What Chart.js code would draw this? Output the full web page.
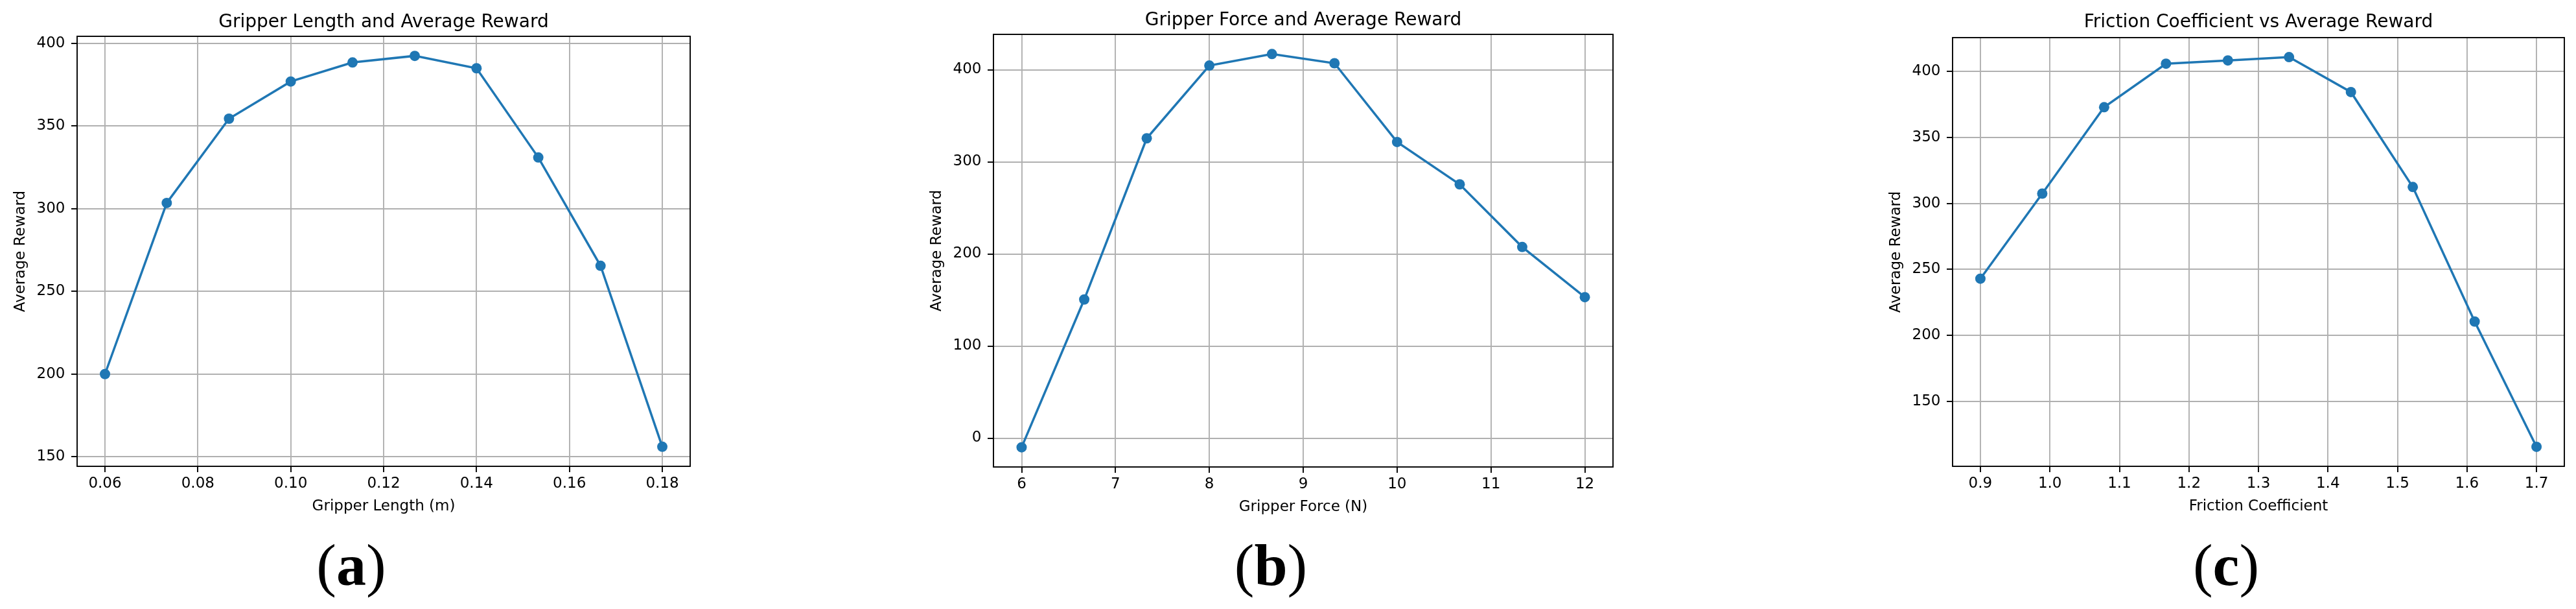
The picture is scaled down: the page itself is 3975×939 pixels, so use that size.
<!DOCTYPE html>
<html>
<head>
<meta charset="utf-8">
<title>Gripper parameters and average reward</title>
<script src="https://cdn.jsdelivr.net/npm/chart.js@4.4.1/dist/chart.umd.min.js"></script>
<style>
  html, body { margin: 0; padding: 0; background: #fff; }
  body { width: 3975px; height: 939px; position: relative; overflow: hidden; }
  .panel { position: absolute; top: 0; }
  .tag {
    position: absolute;
    top: 825px;
    transform: translateX(-50%);
    font-family: 'Liberation Serif', 'Times New Roman', serif;
    font-size: 92px;
    line-height: 92px;
    color: #000;
    white-space: nowrap;
  }
</style>
</head>
<body>
<canvas class="panel" id="chart-a" width="1100" height="800" style="left:0px"></canvas>
<canvas class="panel" id="chart-b" width="1120" height="800" style="left:1400px"></canvas>
<canvas class="panel" id="chart-c" width="1095" height="800" style="left:2880px"></canvas>
<div class="tag" style="left:542px">(<b>a</b>)</div>
<div class="tag" style="left:1961px">(<b>b</b>)</div>
<div class="tag" style="left:3435px">(<b>c</b>)</div>

<script>
// (a) gripper length sweep
const gripperLength = [0.06, 0.0733, 0.0867, 0.10, 0.1133, 0.1267, 0.14, 0.1533, 0.1667, 0.18];
const lengthReward = [200, 303.5, 354.5, 377, 388.5, 392.5, 385, 331, 265.5, 156];
const lengthTicksX = [0.06, 0.08, 0.10, 0.12, 0.14, 0.16, 0.18];
const lengthLabelsX = ['0.06', '0.08', '0.10', '0.12', '0.14', '0.16', '0.18'];
const lengthTicksY = [150, 200, 250, 300, 350, 400];
const lengthLabelsY = ['150', '200', '250', '300', '350', '400'];

// (b) gripper force sweep
const gripperForce = [6, 6.667, 7.333, 8, 8.667, 9.333, 10, 10.667, 11.333, 12];
const forceReward = [-10, 150.5, 325.5, 404.5, 417, 407, 321.5, 275.5, 207.5, 153];
const forceTicksX = [6, 7, 8, 9, 10, 11, 12];
const forceLabelsX = ['6', '7', '8', '9', '10', '11', '12'];
const forceTicksY = [0, 100, 200, 300, 400];
const forceLabelsY = ['0', '100', '200', '300', '400'];

// (c) friction coefficient sweep
const friction = [0.9, 0.989, 1.078, 1.167, 1.256, 1.344, 1.433, 1.522, 1.611, 1.7];
const frictionReward = [243, 307.5, 373, 406, 408.5, 411, 384.5, 312.5, 210.5, 115.5];
const frictionTicksX = [0.9, 1.0, 1.1, 1.2, 1.3, 1.4, 1.5, 1.6, 1.7];
const frictionLabelsX = ['0.9', '1.0', '1.1', '1.2', '1.3', '1.4', '1.5', '1.6', '1.7'];
const frictionTicksY = [150, 200, 250, 300, 350, 400];
const frictionLabelsY = ['150', '200', '250', '300', '350', '400'];

const BLUE = '#1f77b4';
const FONT = "'DejaVu Sans', sans-serif";

// same 5% autoscale margin that matplotlib uses
function padRange(values) {
    const lo = Math.min(...values);
    const hi = Math.max(...values);
    const m = (hi - lo) * 0.05;
    return [lo - m, hi + m];
}

// all four spines around the plot area
const frameBox = {
    id: 'frameBox',
    afterDatasetsDraw(chart) {
        const { ctx, chartArea: a } = chart;
        ctx.save();
        ctx.strokeStyle = '#000';
        ctx.lineWidth = 1.9;
        ctx.strokeRect(a.left, a.top, a.right - a.left, a.bottom - a.top);
        ctx.restore();
    }
};

function axisOptions(range, ticks, labels, title, fit, titlePad, tickPad) {
    return {
        type: 'linear',
        min: range[0],
        max: range[1],
        afterBuildTicks: (scale) => {
            scale.ticks = ticks.map(v => ({ value: v }));
        },
        afterFit: fit,
        ticks: {
            callback: (value, index) => labels[index],
            color: '#000',
            font: { family: FONT, size: 23 },
            padding: tickPad,
            maxRotation: 0,
            autoSkip: false
        },
        grid: {
            color: '#b0b0b0',
            lineWidth: 1.9,
            drawTicks: true,
            tickLength: 9,
            tickColor: '#000',
            tickWidth: 1.9
        },
        border: { display: false },
        title: {
            display: true,
            text: title,
            color: '#000',
            font: { family: FONT, size: 23 },
            padding: titlePad
        }
    };
}

function makePanel(id, p) {
    return new Chart(document.getElementById(id), {
        type: 'line',
        data: {
            datasets: [{
                data: p.xs.map((x, i) => ({ x: x, y: p.ys[i] })),
                borderColor: BLUE,
                backgroundColor: BLUE,
                borderWidth: 3.5,
                pointRadius: 8,
                pointHoverRadius: 8,
                pointBackgroundColor: BLUE,
                pointBorderWidth: 0,
                tension: 0,
                fill: false
            }]
        },
        options: {
            responsive: false,
            animation: false,
            devicePixelRatio: 1,
            layout: { padding: { left: 0, top: 0, bottom: 0, right: p.box.right } },
            plugins: {
                legend: { display: false },
                tooltip: { enabled: false },
                title: {
                    display: true,
                    fullSize: false,
                    text: p.title,
                    color: '#000',
                    font: { family: FONT, size: 28, weight: 'normal' },
                    padding: { top: p.box.titleTop, bottom: p.box.titleBottom }
                }
            },
            scales: {
                x: Object.assign(
                    axisOptions(padRange(p.xs), p.xTicks, p.xLabels, p.xTitle,
                        (s) => { s.height = p.box.xHeight; },
                        { top: 0, bottom: p.box.xTitlePad }, 4.5),
                    { position: 'bottom' }),
                y: Object.assign(
                    axisOptions(padRange(p.ys), p.yTicks, p.yLabels, 'Average Reward',
                        (s) => { s.width = p.box.yWidth; },
                        { top: p.box.yTitlePad, bottom: 0 }, 9.6),
                    { position: 'left' })
            }
        },
        plugins: [frameBox]
    });
}

makePanel('chart-a', {
    xs: gripperLength, ys: lengthReward,
    xTicks: lengthTicksX, xLabels: lengthLabelsX,
    yTicks: lengthTicksY, yLabels: lengthLabelsY,
    title: 'Gripper Length and Average Reward',
    xTitle: 'Gripper Length (m)',
    box: { yWidth: 119, xHeight: 81, right: 35, titleTop: 17.6, titleBottom: 4.8, yTitlePad: 18.2, xTitlePad: 4.9 }
});

makePanel('chart-b', {
    xs: gripperForce, ys: forceReward,
    xTicks: forceTicksX, xLabels: forceLabelsX,
    yTicks: forceTicksY, yLabels: forceLabelsY,
    title: 'Gripper Force and Average Reward',
    xTitle: 'Gripper Force (N)',
    box: { yWidth: 133, xHeight: 80, right: 31, titleTop: 15.2, titleBottom: 4.2, yTitlePad: 32.2, xTitlePad: 3.9 }
});

makePanel('chart-c', {
    xs: friction, ys: frictionReward,
    xTicks: frictionTicksX, xLabels: frictionLabelsX,
    yTicks: frictionTicksY, yLabels: frictionLabelsY,
    title: 'Friction Coefficient vs Average Reward',
    xTitle: 'Friction Coefficient',
    box: { yWidth: 133, xHeight: 81, right: 18, titleTop: 18.4, titleBottom: 6, yTitlePad: 32.2, xTitlePad: 4.9 }
});
</script>
</body>
</html>
